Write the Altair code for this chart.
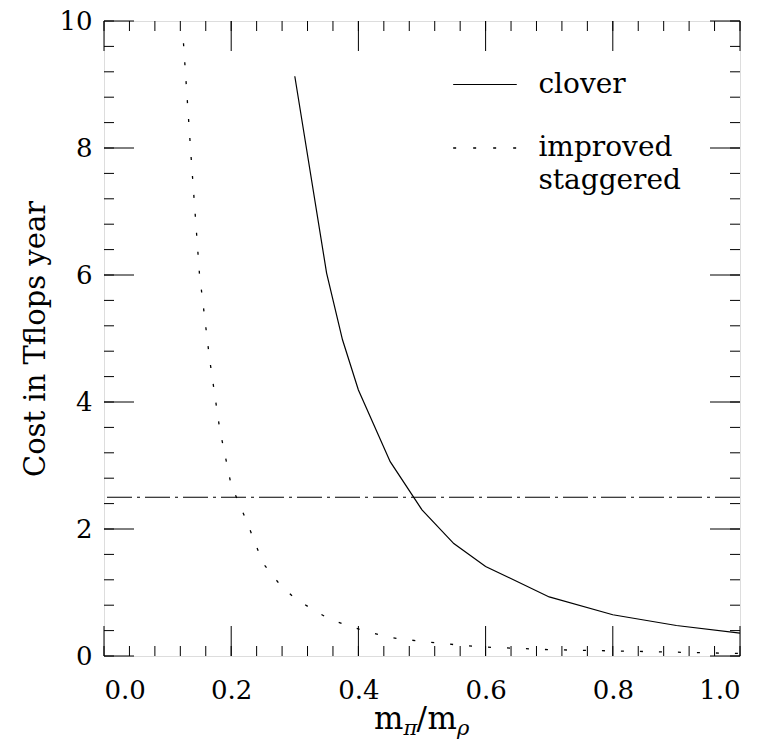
import altair as alt
import pandas as pd

# ---- data ----
clover_x = [0.30, 0.35, 0.375, 0.40, 0.45, 0.50, 0.55, 0.60, 0.70, 0.80, 0.90, 1.00]
clover_y = [9.13, 6.03, 4.98, 4.19, 3.06, 2.30, 1.77, 1.41, 0.93, 0.65, 0.48, 0.36]

stag_x = [0.125, 0.137, 0.150, 0.166, 0.182, 0.200, 0.224, 0.250, 0.277, 0.300,
          0.330, 0.355, 0.380, 0.405, 0.450, 0.500, 0.550, 0.600, 0.650, 0.700,
          0.800, 0.900, 1.000]
stag_y = [9.65, 7.85, 6.03, 4.68, 3.57, 2.69, 2.13, 1.46, 1.12, 0.91,
          0.72, 0.58, 0.49, 0.41, 0.29, 0.23, 0.18, 0.14, 0.12, 0.10,
          0.08, 0.06, 0.04]

budget_y = [2.5]

x_major = [0.0, 0.2, 0.4, 0.6, 0.8, 1.0]
y_major = [0, 2, 4, 6, 8, 10]
x_minor = [round(i * 0.04, 2) for i in range(26)]
y_minor = [round(i * 0.4, 1) for i in range(26)]

legend_labels = ["clover", "improved", "staggered"]
legend_text_y = [9.0, 8.0, 7.48]
legend_line_y = [9.0, 8.0]
legend_line_x = [0.549, 0.649]
legend_text_x = 0.683

y_title = "Cost in Tflops year"

W, H = 636, 635
FONT = "DejaVu Serif"

xs = alt.Scale(domain=[0, 1], nice=False, zero=False)
ys = alt.Scale(domain=[0, 10], nice=False, zero=False)

x_axis = alt.Axis(values=x_major, format=".1f", grid=False, ticks=False, domain=False,
                  labelFont=FONT, labelFontSize=26, labelColor="black",
                  labelPadding=21, title=None)
y_axis = alt.Axis(values=y_major, format="d", grid=False, ticks=False, domain=False,
                  labelFont=FONT, labelFontSize=26, labelColor="black",
                  labelPadding=12, title=y_title, titleFont=FONT, titleFontSize=29,
                  titleFontWeight="normal", titleColor="black", titleAngle=270,
                  titleX=-69, titleY=H / 2, titleAlign="center", titleBaseline="middle")


def X(field):
    return alt.X(field, scale=xs, axis=x_axis)


def Y(field):
    return alt.Y(field, scale=ys, axis=y_axis)


clover_df = pd.DataFrame({"x": clover_x, "y": clover_y})
stag_df = pd.DataFrame({"x": stag_x, "y": stag_y})

clover = alt.Chart(clover_df).mark_line(color="black", strokeWidth=1.2).encode(
    x=X("x:Q"), y=Y("y:Q"))

stag = alt.Chart(stag_df).mark_line(color="black", strokeWidth=1.3, strokeDash=[3, 16]).encode(
    x=X("x:Q"), y=Y("y:Q"))

budget = alt.Chart(pd.DataFrame({"y": budget_y})).mark_rule(
    color="black", strokeWidth=1.2, strokeDash=[25, 5, 3, 5]).encode(y=Y("y:Q"))


def xticks(vals, length):
    d = pd.DataFrame({"t": vals})
    bottom = alt.Chart(d).mark_rule(color="black", strokeWidth=1).encode(
        x=X("t:Q"), y=alt.value(H), y2=alt.value(H - length))
    top = alt.Chart(d).mark_rule(color="black", strokeWidth=1).encode(
        x=X("t:Q"), y=alt.value(0), y2=alt.value(length))
    return [bottom, top]


def yticks(vals, length):
    d = pd.DataFrame({"t": vals})
    left = alt.Chart(d).mark_rule(color="black", strokeWidth=1).encode(
        y=Y("t:Q"), x=alt.value(0), x2=alt.value(length))
    right = alt.Chart(d).mark_rule(color="black", strokeWidth=1).encode(
        y=Y("t:Q"), x=alt.value(W), x2=alt.value(W - length))
    return [left, right]


ticks = xticks(x_minor, 10) + xticks(x_major, 30) + yticks(y_minor, 10) + yticks(y_major, 30)

# legend
leg_df = pd.DataFrame({"x0": [legend_line_x[0]] * 2, "x1": [legend_line_x[1]] * 2,
                       "y": legend_line_y})
leg_solid = alt.Chart(leg_df.iloc[[0]]).mark_rule(color="black", strokeWidth=1.2).encode(
    x=X("x0:Q"), x2="x1:Q", y=Y("y:Q"))
leg_dot = alt.Chart(leg_df.iloc[[1]]).mark_rule(
    color="black", strokeWidth=1.3, strokeDash=[3, 17]).encode(
    x=X("x0:Q"), x2="x1:Q", y=Y("y:Q"))
leg_text = alt.Chart(pd.DataFrame({"x": [legend_text_x] * 3, "y": legend_text_y,
                                   "label": legend_labels})).mark_text(
    align="left", baseline="middle", font=FONT, fontSize=28, color="black").encode(
    x=X("x:Q"), y=Y("y:Q"), text="label:N")

# x-axis title  m_pi / m_rho
title_y = H + 73
parts = [("m", 0, 31, 0, "normal"), ("π", 29.5, 21, 6, "italic"), ("/", 42.5, 31, 0, "normal"),
         ("m", 53.5, 31, 0, "normal"), ("ρ", 83, 21, 6, "italic")]
x0 = W / 2 - 48
title_layers = []
for txt, off, size, dy, style in parts:
    title_layers.append(
        alt.Chart(pd.DataFrame({"a": [0]})).mark_text(
            text=txt, align="left", baseline="alphabetic", font=FONT, fontSize=size,
            fontStyle=style, color="black", dy=dy).encode(
            x=alt.value(x0 + off), y=alt.value(title_y)))

chart = alt.layer(clover, stag, budget, *ticks, leg_solid, leg_dot, leg_text, *title_layers).properties(
    width=W, height=H,
    autosize=alt.AutoSizeParams(type="none"),
    padding={"left": 96, "top": 13, "right": 19, "bottom": 90},
).configure_view(stroke="black", strokeWidth=1.2).configure(background="white")

chart.save("out.html", embed_options={"renderer": "svg", "actions": False})
